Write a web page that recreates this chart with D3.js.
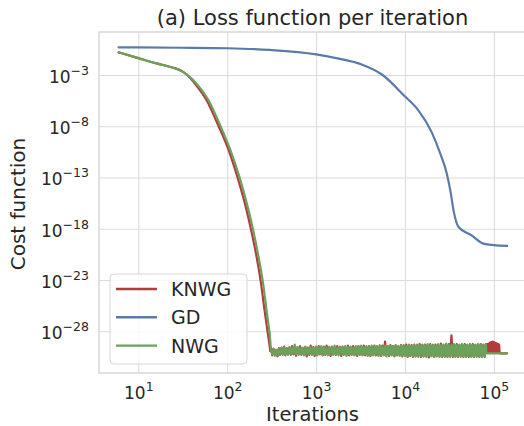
<!DOCTYPE html>
<html>
<head>
<meta charset="utf-8">
<script src="https://cdn.jsdelivr.net/npm/d3@7"></script>
<style>
  body { margin: 0; background: #fff; }
  text { font-family: "DejaVu Sans", sans-serif; fill: #262626; }
</style>
</head>
<body>
<div class="chart"></div>
<script>
// Loss function per iteration (log-log)

// series names + colours
var seriesNames = ["KNWG", "GD", "NWG"];
var seriesColors = ["#b23b3c", "#5a7aa9", "#6ca15b"];

// tick values
var xTicks = [1e1, 1e2, 1e3, 1e4, 1e5];
var yTicks = [1e-3, 1e-8, 1e-13, 1e-18, 1e-23, 1e-28];

// GD: iterations and log10(cost)
var gdIter = [6, 10, 30, 100, 300, 1000, 1800, 3200, 5600, 10000, 14000, 20000, 25000,
  29500, 32400, 35500, 39800, 56200, 75900, 100000, 141000];
var gdLog = [-0.30, -0.31, -0.34, -0.39, -0.55, -0.98, -1.4, -1.95, -3.0, -5.1, -6.4, -8.6, -10.7,
  -12.6, -14.3, -16.4, -17.8, -18.65, -19.45, -19.6, -19.67];

// KNWG descent
var knwgIter = [6, 10, 16, 22, 26, 30, 35, 45, 58, 79, 107, 130, 158, 184, 214, 240, 263, 290, 305];
var knwgLog = [-0.79, -1.35, -1.86, -2.17, -2.35, -2.56, -2.95, -4.02, -5.39, -7.88, -10.64, -12.92,
  -15.52, -17.96, -20.73, -23.3, -25.93, -28.53, -29.9];

// NWG descent
var nwgIter = [6, 10, 16, 22, 26, 30, 35, 47, 61, 83, 112, 137, 166, 194, 225, 253, 277, 300];
var nwgLog = [-0.79, -1.35, -1.86, -2.17, -2.35, -2.56, -2.95, -4.02, -5.39, -7.88, -10.64, -12.92,
  -15.52, -17.96, -20.73, -23.3, -25.93, -28.2];

// noise floor, sampled iterations (shared)
var floorIter = [310, 321, 332, 344, 356, 368, 381, 394, 408, 422,
  437, 452, 468, 484, 501, 519, 537, 556, 575, 595,
  616, 638, 660, 683, 707, 732, 757, 784, 811, 840,
  869, 899, 931, 963, 997, 1032, 1068, 1105, 1144, 1184,
  1225, 1268, 1313, 1359, 1406, 1455, 1506, 1559, 1614, 1670,
  1728, 1789, 1852, 1916, 1983, 2053, 2125, 2199, 2276, 2356,
  2438, 2523, 2612, 2703, 2798, 2896, 2997, 3102, 3211, 3323,
  3439, 3560, 3684, 3813, 3947, 4085, 4228, 4376, 4529, 4688,
  4852, 5022, 5197, 5379, 5568, 5763, 5964, 6173, 6389, 6613,
  6844, 7084, 7332, 7588, 7854, 8129, 8413, 8708, 9012, 9328,
  9654, 9992, 10342, 10704, 11079, 11466, 11868, 12283, 12713, 13158,
  13618, 14095, 14588, 15099, 15627, 16174, 16740, 17326, 17933, 18560,
  19210, 19882, 20578, 21298, 22044, 22815, 23614, 24440, 25296, 26181,
  27097, 28046, 29027, 30043, 31095, 32183, 33309, 34475, 35682, 36931,
  38223, 39561, 40946, 42379, 43862, 45397, 46986, 48631, 50333, 52094,
  53918, 55805, 57758, 59780, 61872, 64037, 66278, 68598, 71000, 73485,
  76056, 78718, 81474];

var knwgFloorLog = [-29.6, -30.35, -29.7, -30.3, -29.85, -30.45, -29.65, -30.3, -29.6, -30.25,
  -29.5, -30.35, -29.65, -30.2, -29.6, -30.3, -29.45, -30.25, -29.55, -30.4,
  -29.6, -30.2, -29.45, -30.3, -29.65, -30.25, -29.55, -30.45, -29.6, -30.3,
  -29.4, -30.25, -29.55, -30.4, -29.6, -30.3, -29.45, -30.25, -29.55, -30.35,
  -29.5, -30.3, -29.4, -30.25, -29.6, -30.4, -29.5, -30.25, -29.55, -30.3,
  -29.45, -30.25, -29.55, -30.4, -29.5, -30.25, -29.6, -30.3, -29.4, -30.35,
  -29.55, -30.25, -29.45, -30.3, -29.55, -30.4, -29.45, -30.25, -29.5, -30.3,
  -29.4, -30.35, -29.55, -30.3, -29.45, -30.4, -29.5, -30.25, -29.4, -30.35,
  -29.5, -30.3, -29.45, -30.4, -29.4, -30.3, -29.0, -30.35, -29.45, -30.4,
  -29.35, -30.3, -29.45, -30.45, -29.4, -30.35, -29.5, -30.3, -29.35, -30.45,
  -29.4, -30.35, -29.3, -30.5, -29.4, -30.4, -29.35, -30.5, -29.3, -30.45,
  -29.4, -30.4, -29.25, -30.5, -29.35, -30.45, -29.3, -30.4, -29.35, -30.55,
  -29.25, -30.4, -29.35, -30.5, -29.3, -30.45, -29.35, -30.4, -29.2, -30.5,
  -29.35, -30.45, -29.3, -30.5, -29.25, -30.4, -28.4, -30.5, -29.3, -30.45,
  -29.25, -30.5, -29.35, -30.4, -29.3, -30.5, -29.25, -30.45, -29.35, -30.5,
  -29.3, -30.45, -29.25, -30.5, -29.35, -30.4, -29.3, -30.5, -29.25, -30.45,
  -29.3, -30.5, -29.25];

var nwgFloorLog = [-29.7, -30.25, -29.75, -30.4, -29.8, -30.35, -29.7, -30.2, -29.65, -30.3,
  -29.6, -30.25, -29.7, -30.3, -29.55, -30.2, -29.6, -30.15, -29.3, -30.25,
  -29.55, -30.3, -29.65, -30.2, -29.6, -30.35, -29.5, -30.25, -29.65, -30.2,
  -29.55, -30.3, -29.6, -30.25, -29.5, -30.35, -29.6, -30.2, -29.45, -30.3,
  -29.55, -30.25, -29.6, -30.35, -29.5, -30.2, -29.55, -30.3, -29.4, -30.25,
  -29.6, -30.35, -29.5, -30.2, -29.55, -30.3, -29.45, -30.4, -29.55, -30.25,
  -29.5, -30.3, -29.6, -30.35, -29.45, -30.25, -29.5, -30.3, -29.4, -30.35,
  -29.55, -30.25, -29.45, -30.4, -29.5, -30.3, -29.4, -30.35, -29.5, -30.25,
  -29.45, -30.4, -29.35, -30.3, -29.5, -30.35, -29.4, -30.45, -29.45, -30.3,
  -29.4, -30.35, -29.5, -30.4, -29.35, -30.3, -29.45, -30.4, -29.4, -30.35,
  -29.35, -30.4, -29.45, -30.45, -29.3, -30.35, -29.4, -30.45, -29.35, -30.4,
  -29.3, -30.5, -29.4, -30.4, -29.3, -30.45, -29.35, -30.5, -29.25, -30.4,
  -29.35, -30.45, -29.3, -30.5, -29.4, -30.4, -29.25, -30.5, -29.35, -30.45,
  -29.3, -30.5, -29.2, -30.45, -29.35, -30.5, -29.3, -30.4, -29.25, -30.5,
  -29.35, -30.45, -29.3, -30.5, -29.25, -30.45, -29.35, -30.5, -29.3, -30.4,
  -29.25, -30.5, -29.35, -30.45, -29.3, -30.5, -29.25, -30.45, -29.3, -30.5,
  -29.35, -30.45, -29.3];

// tail after the floor
var knwgTailIter = [83000, 84500, 86000, 87500, 89000, 90500, 92000, 93500, 95000, 96500,
  98000, 99500, 101000, 102500, 104000, 105500, 107000, 108500, 110000, 111500,
  113000, 114500, 116000, 118000, 141000];
var knwgTailLog = [-30.1, -29.25, -30.1, -29.2, -30.1, -29.1, -30.1, -29.05, -30.1, -29.0,
  -30.1, -29.05, -30.1, -29.1, -30.1, -29.15, -30.1, -29.2, -30.1, -29.25,
  -30.1, -29.3, -30.1, -30.15, -30.15];
var nwgTailIter = [82000, 141000];
var nwgTailLog = [-30.15, -30.15];

////////////////////////////////////////////////////////////////////
var svgWidth = 524, svgHeight = 426;
var margin = { top: 32, left: 99, bottom: 53, right: -2 };
var width = svgWidth - margin.left - margin.right;
var height = svgHeight - margin.top - margin.bottom;

var svg = d3.select(".chart").append("svg")
  .attr("width", svgWidth)
  .attr("height", svgHeight);

var chartGroup = svg.append("g")
  .attr("transform", `translate(${margin.left}, ${margin.top})`);

var xLogScale = d3.scaleLog()
  .domain([Math.pow(10, 0.558), Math.pow(10, 5.361)])
  .range([0, width]);

var yLogScale = d3.scaleLog()
  .domain([Math.pow(10, -32.07), Math.pow(10, 1.195)])
  .range([height, 0]);

// grid via axes
var xAxis = chartGroup.append("g")
  .attr("transform", `translate(0, ${height})`)
  .call(d3.axisBottom(xLogScale).tickValues(xTicks).tickSizeInner(-height).tickSizeOuter(0));
var yAxis = chartGroup.append("g")
  .call(d3.axisLeft(yLogScale).tickValues(yTicks).tickSizeInner(-width).tickSizeOuter(0));

[xAxis, yAxis].forEach(function (ax) {
  ax.select(".domain").remove();
  ax.selectAll(".tick line").attr("stroke", "#dcdcdc").attr("stroke-width", 1.1);
});

// power-of-ten labels
function powLabel(sel) {
  sel.each(function (d) {
    var t = d3.select(this).text(null);
    var e = Math.round(Math.log10(d));
    t.append("tspan").text("10");
    t.append("tspan").attr("dy", -8).style("font-size", "12.5px")
      .text(e < 0 ? "\u2212" + (-e) : String(e));
  });
}

xAxis.selectAll(".tick text")
  .attr("y", 26).attr("dy", null)
  .style("font-size", "17px")
  .call(powLabel);
yAxis.selectAll(".tick text")
  .attr("x", -10).attr("dy", 7.4)
  .style("font-size", "17px")
  .call(powLabel);

// frame
chartGroup.append("rect")
  .attr("width", width).attr("height", height)
  .attr("fill", "none").attr("stroke", "#cfcfcf").attr("stroke-width", 1.25);

// build series
function toPoints(iters, logs) {
  return iters.map(function (it, i) { return { it: it, c: Math.pow(10, logs[i]) }; });
}
var knwgDescent = toPoints(knwgIter, knwgLog);
var knwgNoise = knwgDescent.slice(-1)
  .concat(toPoints(floorIter, knwgFloorLog))
  .concat(toPoints(knwgTailIter, knwgTailLog));
var gdData = toPoints(gdIter, gdLog);
var nwgDescent = toPoints(nwgIter, nwgLog);
var nwgNoise = nwgDescent.slice(-1)
  .concat(toPoints(floorIter, nwgFloorLog))
  .concat(toPoints(nwgTailIter, nwgTailLog));

var line = d3.line().x(d => xLogScale(d.it)).y(d => yLogScale(d.c));
var smooth = d3.line().x(d => xLogScale(d.it)).y(d => yLogScale(d.c)).curve(d3.curveMonotoneX);

function drawSeries(data, gen, color) {
  chartGroup.append("path").datum(data)
    .attr("d", gen).attr("fill", "none")
    .attr("stroke", color).attr("stroke-width", 2.2)
    .attr("stroke-linejoin", "round").attr("stroke-linecap", "round");
}

drawSeries(knwgDescent, smooth, seriesColors[0]);
drawSeries(knwgNoise, line, seriesColors[0]);
drawSeries(gdData, smooth, seriesColors[1]);
drawSeries(nwgDescent, smooth, seriesColors[2]);
drawSeries(nwgNoise, line, seriesColors[2]);

// title + axis labels
svg.append("text")
  .attr("x", margin.left + width / 2).attr("y", 25)
  .attr("text-anchor", "middle").style("font-size", "21px")
  .text("(a) Loss function per iteration");
svg.append("text")
  .attr("x", margin.left + width / 2).attr("y", 421)
  .attr("text-anchor", "middle").style("font-size", "19.5px")
  .text("Iterations");
svg.append("text")
  .attr("transform", "rotate(-90)")
  .attr("x", -204).attr("y", 25)
  .attr("text-anchor", "middle").style("font-size", "20px")
  .text("Cost function");

// legend
var legend = svg.append("g").attr("transform", "translate(110, 274)");
legend.append("rect")
  .attr("width", 137).attr("height", 90).attr("rx", 4)
  .attr("fill", "#fff").attr("fill-opacity", 0.8)
  .attr("stroke", "#d6d6d6").attr("stroke-width", 1);
seriesNames.forEach(function (name, i) {
  var yy = 15 + i * 28.3;
  legend.append("line")
    .attr("x1", 6).attr("x2", 47).attr("y1", yy).attr("y2", yy)
    .attr("stroke", seriesColors[i]).attr("stroke-width", 2.4);
  legend.append("text")
    .attr("x", 61).attr("y", yy + 7)
    .style("font-size", "19px")
    .text(name);
});
</script>
</body>
</html>
